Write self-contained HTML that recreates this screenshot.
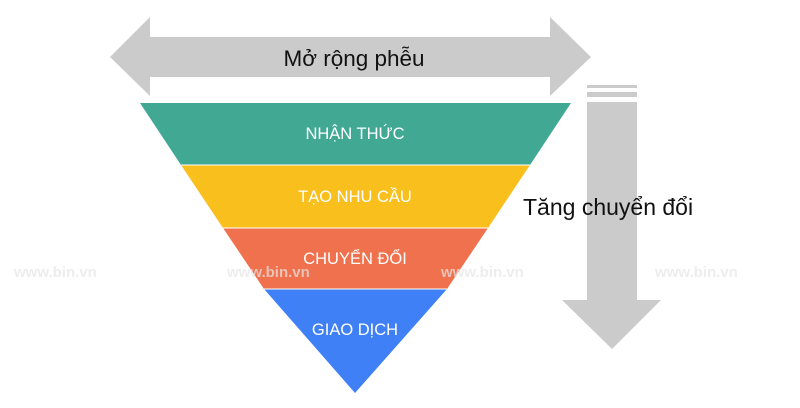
<!DOCTYPE html>
<html><head><meta charset="utf-8"><style>
html,body{margin:0;padding:0;background:#fff;}
body{width:800px;height:403px;overflow:hidden;}
</style></head><body>
<svg width="800" height="403" xmlns="http://www.w3.org/2000/svg" font-family="Liberation Sans, Arial, sans-serif">
<rect width="800" height="403" fill="#fff"/>
<polygon points="110,57 150,17 150,37 550,37 550,17 591,57 550,96 550,77 150,77 150,96" fill="#cbcbcb"/>
<text x="354" y="66" font-size="22.5" text-anchor="middle" fill="#111">Mở rộng phễu</text>
<rect x="587" y="85" width="50" height="3" fill="#cbcbcb"/>
<rect x="587" y="92" width="50" height="5" fill="#cbcbcb"/>
<polygon points="587,102 637,102 637,300 661,300 612,349 562,300 587,300" fill="#cbcbcb"/>
<polygon points="140,103 571,103 530,165 181,165" fill="#41a894"/>
<polygon points="181,165 530,165 488,228 223,228" fill="#f9bf1d"/>
<polygon points="223,228 488,228 447,289 264,289" fill="#f0714d"/>
<polygon points="264,289 447,289 355,393" fill="#3f80f7"/>
<line x1="181" y1="165" x2="530" y2="165" stroke="#fff" stroke-width="1"/>
<line x1="223" y1="228" x2="488" y2="228" stroke="#fff" stroke-width="1"/>
<line x1="264" y1="289" x2="447" y2="289" stroke="#fff" stroke-width="1"/>
<g fill="#fff" font-size="16.5" text-anchor="middle">
<text x="355" y="139">NHẬN THỨC</text>
<text x="355" y="202">TẠO NHU CẦU</text>
<text x="355" y="264">CHUYỂN ĐỔI</text>
<text x="355" y="335">GIAO DỊCH</text>
</g>
<text x="523" y="215" font-size="23" fill="#111">Tăng chuyển đổi</text>
<g fill="#e6e6e6" fill-opacity="0.7" font-size="15" font-weight="bold">
<text x="14" y="277">www.bin.vn</text>
<text x="227" y="277">www.bin.vn</text>
<text x="441" y="277">www.bin.vn</text>
<text x="655" y="277">www.bin.vn</text>
</g>
</svg>
</body></html>
